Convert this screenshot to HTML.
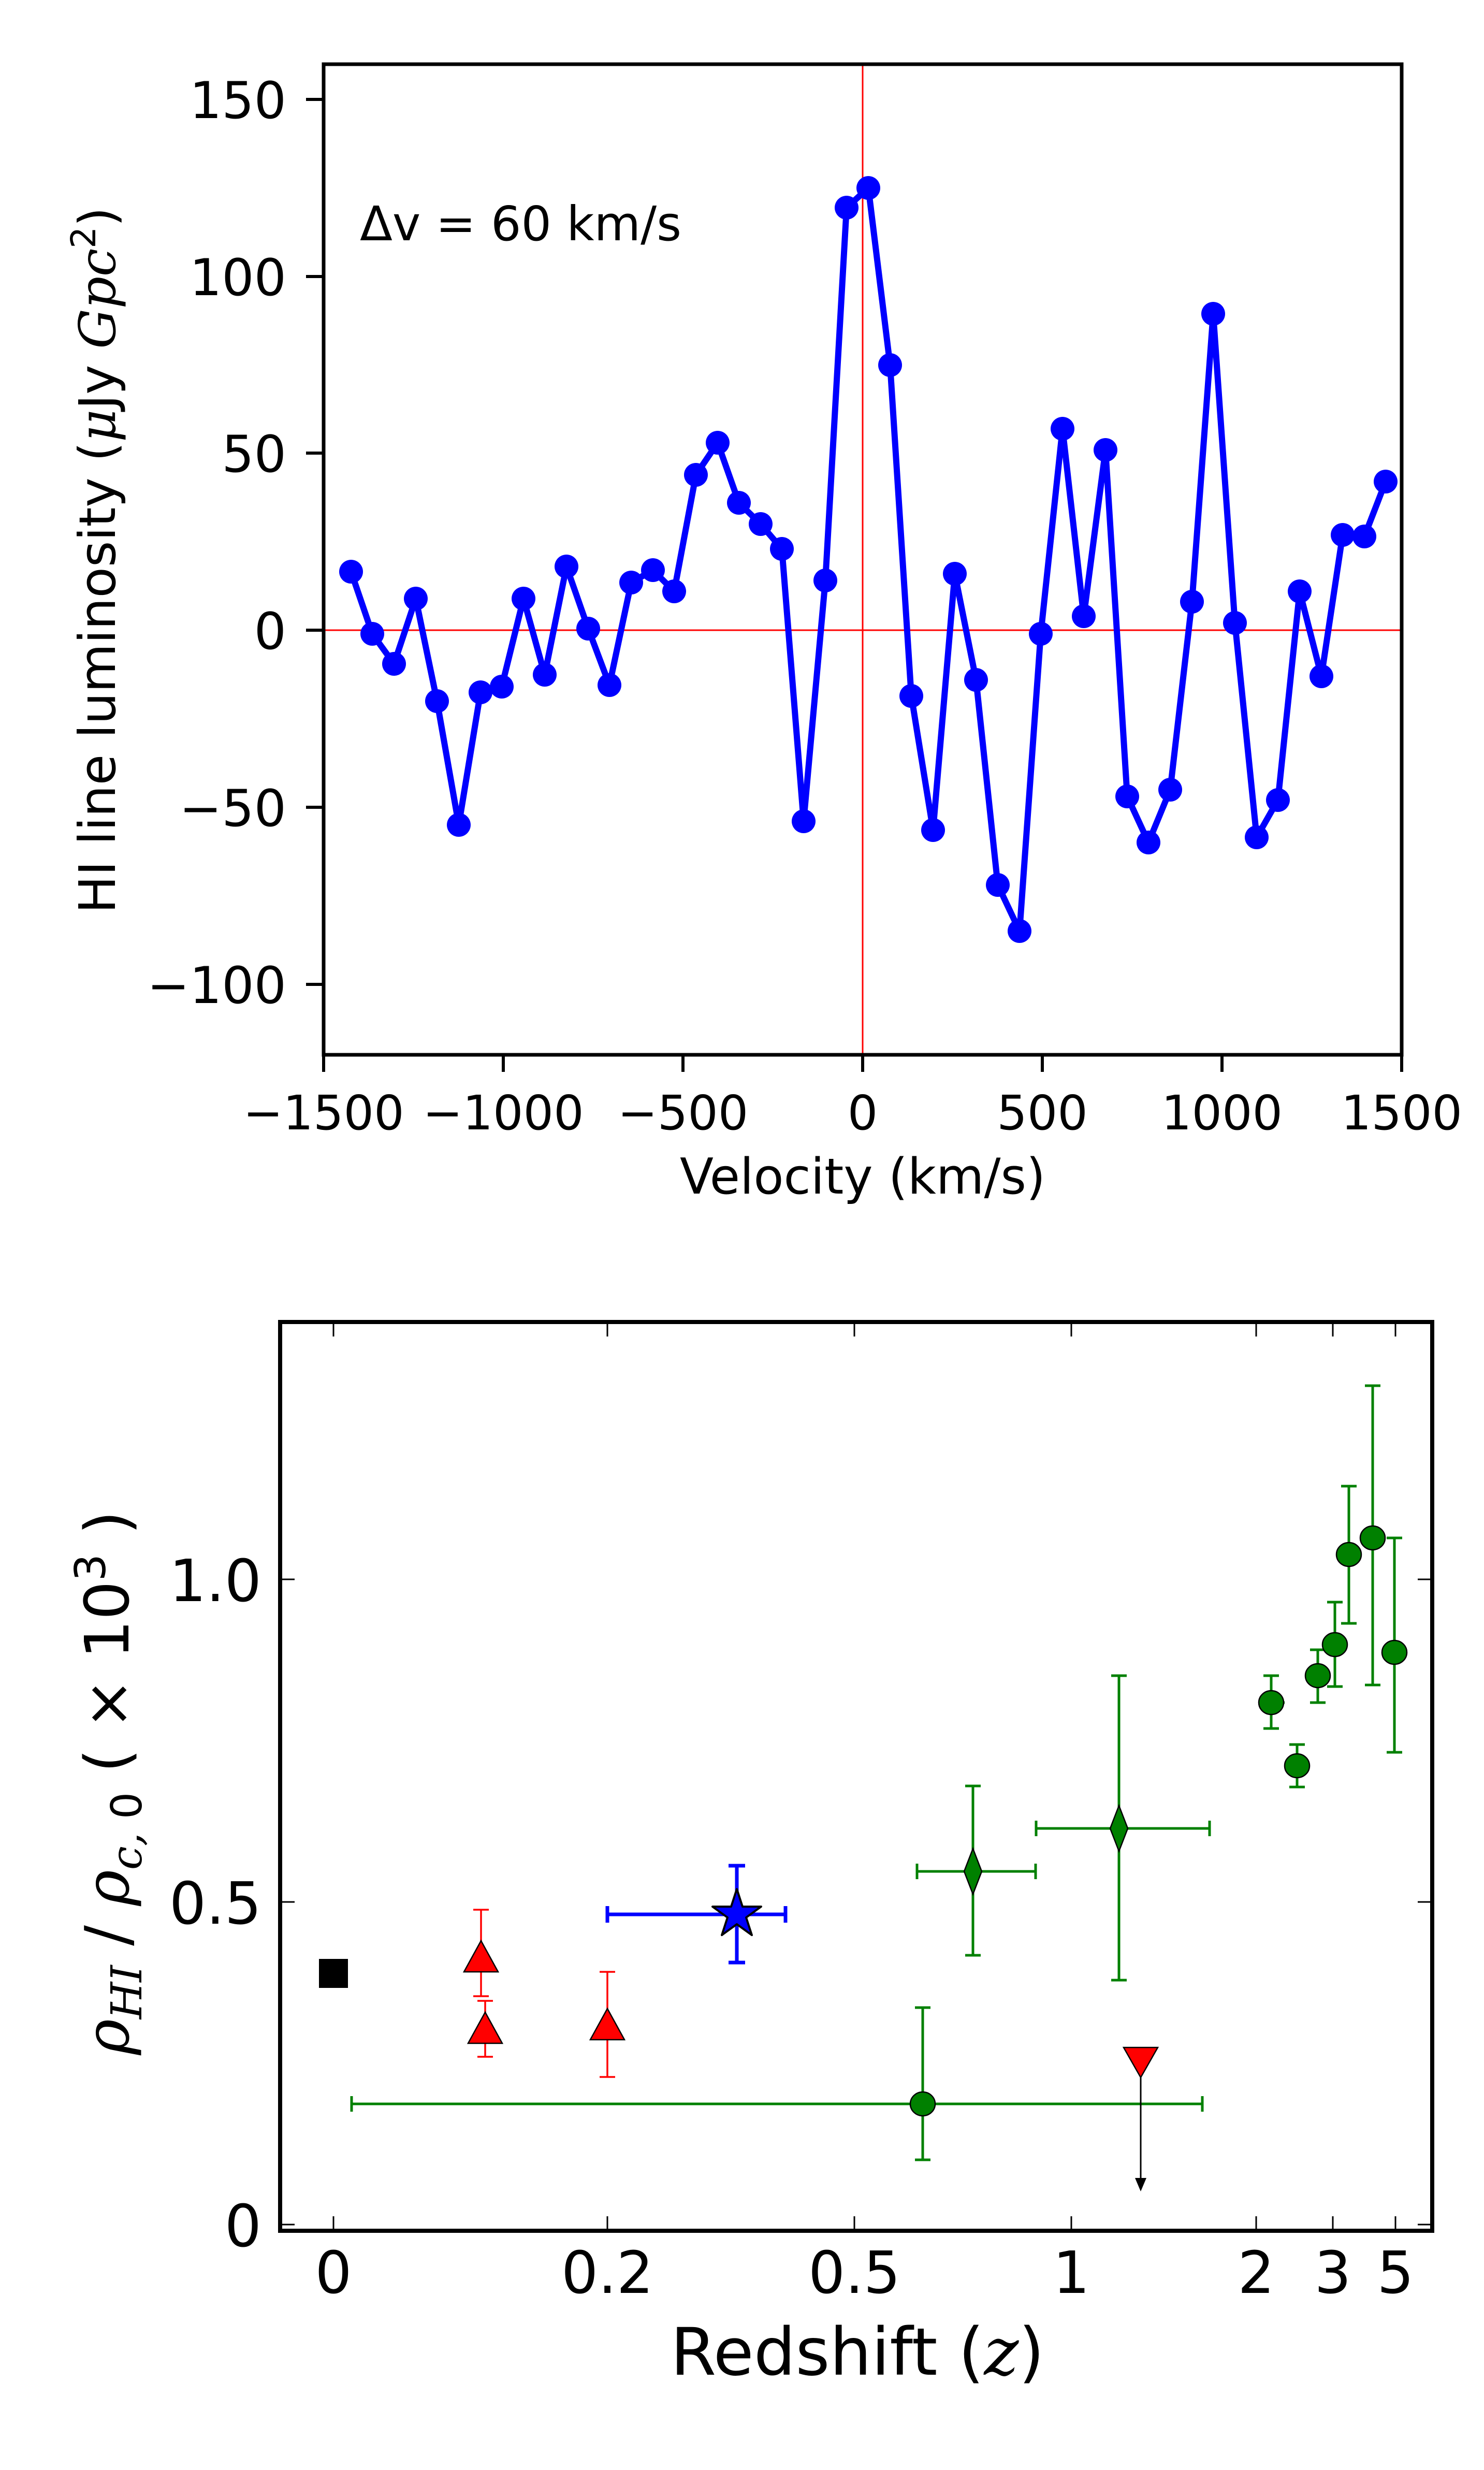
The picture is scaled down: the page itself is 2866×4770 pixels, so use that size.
<!DOCTYPE html>
<html><head><meta charset="utf-8"><style>
html,body{margin:0;padding:0;background:#fff}
svg{display:block}
text{font-family:"DejaVu Sans","Liberation Sans",sans-serif;fill:#000}
.m{font-family:"DejaVu Serif","Liberation Serif",serif;font-style:italic}
</style></head><body>
<svg width="2866" height="4770" viewBox="0 0 2866 4770" xmlns="http://www.w3.org/2000/svg">
<defs>
<marker id="dot" markerUnits="userSpaceOnUse" markerWidth="56" markerHeight="56" refX="28" refY="28" viewBox="0 0 56 56">
<circle cx="28" cy="28" r="23" fill="#0000ff"/>
</marker>
</defs>
<!-- TOP PLOT -->
<line x1="1666" y1="124" x2="1666" y2="2037" stroke="#ff0000" stroke-width="3"/>
<line x1="625" y1="1217" x2="2707" y2="1217" stroke="#ff0000" stroke-width="3"/>
<polyline fill="none" stroke="#0000ff" stroke-width="12" stroke-linejoin="round" marker-start="url(#dot)" marker-mid="url(#dot)" marker-end="url(#dot)"
points="678,1104 719,1224 761,1282 803,1156 844,1354 886,1593 928,1337 969,1326 1011,1156 1052,1303 1094,1094 1136,1214 1177,1323 1219,1125 1261,1101 1302,1142 1344,917 1386,855 1427,971 1469,1012 1510,1060 1552,1586 1594,1121 1635,401 1677,363 1719,705 1760,1344 1802,1603 1844,1108 1885,1313 1927,1709 1969,1798 2010,1224 2052,828 2093,1190 2135,869 2177,1538 2218,1627 2260,1525 2302,1162 2343,606 2385,1203 2427,1617 2468,1545 2510,1142 2552,1306 2593,1033 2635,1036 2676,930"/>
<rect x="625" y="124" width="2082" height="1913" fill="none" stroke="#000" stroke-width="7"/>
<g stroke="#000" stroke-width="6">
<line x1="591" y1="192" x2="625" y2="192"/><line x1="591" y1="534" x2="625" y2="534"/>
<line x1="591" y1="875" x2="625" y2="875"/><line x1="591" y1="1217" x2="625" y2="1217"/>
<line x1="591" y1="1559" x2="625" y2="1559"/><line x1="591" y1="1901" x2="625" y2="1901"/>
<line x1="625" y1="2037" x2="625" y2="2070"/><line x1="972" y1="2037" x2="972" y2="2070"/>
<line x1="1319" y1="2037" x2="1319" y2="2070"/><line x1="1666" y1="2037" x2="1666" y2="2070"/>
<line x1="2013" y1="2037" x2="2013" y2="2070"/><line x1="2360" y1="2037" x2="2360" y2="2070"/>
<line x1="2707" y1="2037" x2="2707" y2="2070"/>
</g>
<g font-size="98" text-anchor="end">
<text x="553" y="228">150</text><text x="553" y="570">100</text><text x="553" y="911">50</text>
<text x="553" y="1253">0</text><text x="553" y="1595">−50</text><text x="553" y="1937">−100</text>
</g>
<g font-size="92" text-anchor="middle">
<text x="625" y="2181">−1500</text><text x="972" y="2181">−1000</text><text x="1319" y="2181">−500</text>
<text x="1666" y="2181">0</text><text x="2013" y="2181">500</text><text x="2360" y="2181">1000</text>
<text x="2707" y="2181">1500</text>
</g>
<text x="1666" y="2305" font-size="95" text-anchor="middle">Velocity (km/s)</text>
<text x="695" y="464" font-size="92">Δv = 60 km/s</text>
<text x="222" y="1082" font-size="97" text-anchor="middle" transform="rotate(-90 222 1082)">HI line luminosity (<tspan class="m">μ</tspan>Jy <tspan class="m">Gpc</tspan><tspan font-size="66" dy="-38">2</tspan><tspan dy="38">)</tspan></text>

<!-- BOTTOM PLOT -->
<g stroke="#000" stroke-width="3">
<line x1="644" y1="4308" x2="644" y2="4280"/><line x1="1173" y1="4308" x2="1173" y2="4280"/>
<line x1="1650" y1="4308" x2="1650" y2="4280"/><line x1="2069" y1="4308" x2="2069" y2="4280"/>
<line x1="2426" y1="4308" x2="2426" y2="4280"/><line x1="2574" y1="4308" x2="2574" y2="4280"/>
<line x1="2695" y1="4308" x2="2695" y2="4280"/>
<line x1="644" y1="2553" x2="644" y2="2581"/><line x1="1173" y1="2553" x2="1173" y2="2581"/>
<line x1="1650" y1="2553" x2="1650" y2="2581"/><line x1="2069" y1="2553" x2="2069" y2="2581"/>
<line x1="2426" y1="2553" x2="2426" y2="2581"/><line x1="2574" y1="2553" x2="2574" y2="2581"/>
<line x1="2695" y1="2553" x2="2695" y2="2581"/>
<line x1="541" y1="4296" x2="569" y2="4296"/><line x1="541" y1="3673" x2="569" y2="3673"/><line x1="541" y1="3050" x2="569" y2="3050"/>
<line x1="2766" y1="4296" x2="2738" y2="4296"/><line x1="2766" y1="3673" x2="2738" y2="3673"/><line x1="2766" y1="3050" x2="2738" y2="3050"/>
</g>
<rect x="616" y="3783" width="56" height="56" fill="#000"/>
<g stroke="#ff0000" stroke-width="3.5">
<line x1="929" y1="3688" x2="929" y2="3855"/><line x1="914" y1="3688" x2="944" y2="3688"/><line x1="914" y1="3855" x2="944" y2="3855"/>
<line x1="937" y1="3864" x2="937" y2="3972"/><line x1="922" y1="3864" x2="952" y2="3864"/><line x1="922" y1="3972" x2="952" y2="3972"/>
<line x1="1173" y1="3808" x2="1173" y2="4011"/><line x1="1158" y1="3808" x2="1188" y2="3808"/><line x1="1158" y1="4011" x2="1188" y2="4011"/>
</g>
<g fill="#ff0000" stroke="#000" stroke-width="2.5">
<polygon points="929,3748 962,3808 896,3808"/>
<polygon points="937,3886 970,3946 904,3946"/>
<polygon points="1173,3879 1206,3939 1140,3939"/>
</g>
<g stroke="#0000ff" stroke-width="7">
<line x1="1173" y1="3697" x2="1517" y2="3697"/><line x1="1173" y1="3681" x2="1173" y2="3713"/><line x1="1517" y1="3681" x2="1517" y2="3713"/>
<line x1="1423" y1="3603" x2="1423" y2="3790"/><line x1="1407" y1="3603" x2="1439" y2="3603"/><line x1="1407" y1="3790" x2="1439" y2="3790"/>
</g>
<polygon fill="#0000ff" stroke="#000" stroke-width="4" stroke-linejoin="round" points="1423,3648 1434,3682 1470,3682 1441,3703 1452,3737 1423,3716 1394,3737 1405,3703 1376,3682 1412,3682"/>
<g stroke="#008000" stroke-width="5">
<line x1="679" y1="4063" x2="2322" y2="4063"/><line x1="679" y1="4048" x2="679" y2="4078"/><line x1="2322" y1="4048" x2="2322" y2="4078"/>
<line x1="1782" y1="3877" x2="1782" y2="4171"/><line x1="1767" y1="3877" x2="1797" y2="3877"/><line x1="1767" y1="4171" x2="1797" y2="4171"/>
<line x1="1771" y1="3614" x2="2000" y2="3614"/><line x1="1771" y1="3599" x2="1771" y2="3629"/><line x1="2000" y1="3599" x2="2000" y2="3629"/>
<line x1="1879" y1="3449" x2="1879" y2="3776"/><line x1="1864" y1="3449" x2="1894" y2="3449"/><line x1="1864" y1="3776" x2="1894" y2="3776"/>
<line x1="2001" y1="3531" x2="2336" y2="3531"/><line x1="2001" y1="3516" x2="2001" y2="3546"/><line x1="2336" y1="3516" x2="2336" y2="3546"/>
<line x1="2161" y1="3236" x2="2161" y2="3824"/><line x1="2146" y1="3236" x2="2176" y2="3236"/><line x1="2146" y1="3824" x2="2176" y2="3824"/>
<line x1="2430" y1="3288" x2="2481" y2="3288"/><line x1="2455" y1="3236" x2="2455" y2="3338"/><line x1="2440" y1="3236" x2="2470" y2="3236"/><line x1="2440" y1="3338" x2="2470" y2="3338"/>
<line x1="2483" y1="3410" x2="2527" y2="3410"/><line x1="2505" y1="3369" x2="2505" y2="3451"/><line x1="2490" y1="3369" x2="2520" y2="3369"/><line x1="2490" y1="3451" x2="2520" y2="3451"/>
<line x1="2545" y1="3186" x2="2545" y2="3288"/><line x1="2530" y1="3186" x2="2560" y2="3186"/><line x1="2530" y1="3288" x2="2560" y2="3288"/>
<line x1="2578" y1="3094" x2="2578" y2="3257"/><line x1="2563" y1="3094" x2="2593" y2="3094"/><line x1="2563" y1="3257" x2="2593" y2="3257"/>
<line x1="2605" y1="2870" x2="2605" y2="3135"/><line x1="2590" y1="2870" x2="2620" y2="2870"/><line x1="2590" y1="3135" x2="2620" y2="3135"/>
<line x1="2651" y1="2676" x2="2651" y2="3254"/><line x1="2636" y1="2676" x2="2666" y2="2676"/><line x1="2636" y1="3254" x2="2666" y2="3254"/>
<line x1="2627" y1="2970" x2="2675" y2="2970"/>
<line x1="2693" y1="2970" x2="2693" y2="3384"/><line x1="2678" y1="2970" x2="2708" y2="2970"/><line x1="2678" y1="3384" x2="2708" y2="3384"/>
</g>
<g fill="#008000" stroke="#000" stroke-width="2.5">
<ellipse cx="1782" cy="4063" rx="24" ry="23"/>
<polygon points="1879,3570 1896,3614 1879,3658 1862,3614"/>
<polygon points="2161,3487 2178,3531 2161,3575 2144,3531"/>
<ellipse cx="2455" cy="3288" rx="24" ry="23"/>
<ellipse cx="2505" cy="3410" rx="24" ry="23"/>
<ellipse cx="2545" cy="3236" rx="24" ry="23"/>
<ellipse cx="2578" cy="3176" rx="24" ry="23"/>
<ellipse cx="2605" cy="3002" rx="24" ry="23"/>
<ellipse cx="2651" cy="2970" rx="24" ry="23"/>
<ellipse cx="2693" cy="3191" rx="24" ry="23"/>
</g>
<line x1="2203" y1="3982" x2="2203" y2="4210" stroke="#000" stroke-width="3"/>
<polygon points="2203,4232 2192,4206 2214,4206" fill="#000"/>
<polygon points="2170,3954 2236,3954 2203,4012" fill="#ff0000" stroke="#000" stroke-width="2.5"/>
<rect x="541" y="2553" width="2225" height="1755" fill="none" stroke="#000" stroke-width="8"/>
<g font-size="112" text-anchor="end">
<text x="505" y="3092">1.0</text><text x="505" y="3715">0.5</text><text x="505" y="4338">0</text>
</g>
<g font-size="112" text-anchor="middle">
<text x="644" y="4428">0</text><text x="1173" y="4428">0.2</text><text x="1650" y="4428">0.5</text>
<text x="2069" y="4428">1</text><text x="2426" y="4428">2</text><text x="2574" y="4428">3</text><text x="2695" y="4428">5</text>
</g>
<text x="1656" y="4586" font-size="127" text-anchor="middle">Redshift (<tspan class="m">z</tspan>)</text>
<text x="248" y="3443" font-size="118" text-anchor="middle" transform="rotate(-90 248 3443)"><tspan class="m">ρ</tspan><tspan class="m" font-size="82" dy="25">HI</tspan><tspan dy="-25">  /  </tspan><tspan class="m">ρ</tspan><tspan class="m" font-size="82" dy="25">c,</tspan><tspan font-size="82"> 0</tspan><tspan dy="-25">  ( × 10</tspan><tspan font-size="82" dy="-45">3</tspan><tspan dy="45"> )</tspan></text>
</svg>
</body></html>
